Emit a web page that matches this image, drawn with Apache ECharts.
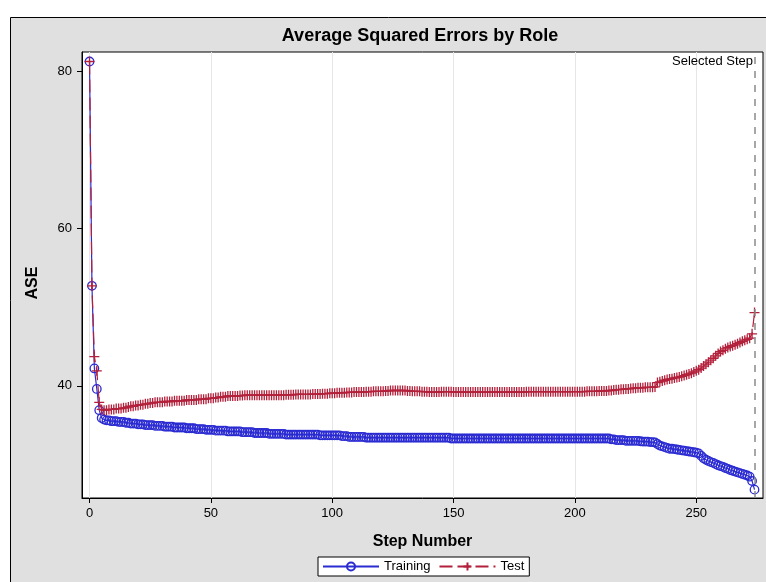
<!DOCTYPE html>
<html>
<head>
<meta charset="utf-8">
<script src="https://cdn.jsdelivr.net/npm/echarts@6/dist/echarts.min.js"></script>
<style>
html,body{margin:0;padding:0;background:#fff;}
#chart{width:766px;height:582px;}
</style>
</head>
<body>
<div id="chart"></div>
<script>
var chartTitle = 'Average Squared Errors by Role';
var xAxisTitle = 'Step Number';
var yAxisTitle = 'ASE';
var seriesNames = ['Training', 'Test'];
var xTicks = [0, 50, 100, 150, 200, 250];
var yTicks = [40, 60, 80];
var selectedStep = 274;
var selectedLabel = 'Selected Step';

// ASE values per step (step number = index)
var training = [
81.2, 52.7, 42.2, 39.6, 36.9, 35.9, 35.7, 35.6, 35.6, 35.5,
35.5, 35.5, 35.4, 35.4, 35.4, 35.3, 35.3, 35.2, 35.2, 35.2,
35.1, 35.1, 35.1, 35.0, 35.0, 35.0, 35.0, 34.9, 34.9, 34.9,
34.9, 34.8, 34.8, 34.8, 34.8, 34.7, 34.7, 34.7, 34.7, 34.7,
34.6, 34.6, 34.6, 34.6, 34.5, 34.5, 34.5, 34.5, 34.4, 34.4,
34.4, 34.4, 34.3, 34.3, 34.3, 34.3, 34.3, 34.2, 34.2, 34.2,
34.2, 34.2, 34.2, 34.1, 34.1, 34.1, 34.1, 34.1, 34.0, 34.0,
34.0, 34.0, 34.0, 34.0, 33.9, 33.9, 33.9, 33.9, 33.9, 33.9,
33.9, 33.8, 33.8, 33.8, 33.8, 33.8, 33.8, 33.8, 33.8, 33.8,
33.8, 33.8, 33.8, 33.8, 33.8, 33.7, 33.7, 33.7, 33.7, 33.7,
33.7, 33.7, 33.7, 33.7, 33.6, 33.6, 33.6, 33.5, 33.5, 33.5,
33.5, 33.5, 33.5, 33.5, 33.4, 33.4, 33.4, 33.4, 33.4, 33.4,
33.4, 33.4, 33.4, 33.4, 33.4, 33.4, 33.4, 33.4, 33.4, 33.4,
33.4, 33.4, 33.4, 33.4, 33.4, 33.4, 33.4, 33.4, 33.4, 33.4,
33.4, 33.4, 33.4, 33.4, 33.4, 33.4, 33.4, 33.4, 33.4, 33.3,
33.3, 33.3, 33.3, 33.3, 33.3, 33.3, 33.3, 33.3, 33.3, 33.3,
33.3, 33.3, 33.3, 33.3, 33.3, 33.3, 33.3, 33.3, 33.3, 33.3,
33.3, 33.3, 33.3, 33.3, 33.3, 33.3, 33.3, 33.3, 33.3, 33.3,
33.3, 33.3, 33.3, 33.3, 33.3, 33.3, 33.3, 33.3, 33.3, 33.3,
33.3, 33.3, 33.3, 33.3, 33.3, 33.3, 33.3, 33.3, 33.3, 33.3,
33.3, 33.3, 33.3, 33.3, 33.3, 33.3, 33.3, 33.3, 33.3, 33.3,
33.3, 33.3, 33.3, 33.3, 33.3, 33.2, 33.2, 33.1, 33.1, 33.1,
33.1, 33.0, 33.0, 33.0, 33.0, 33.0, 33.0, 32.95, 32.9, 32.9,
32.9, 32.85, 32.85, 32.8, 32.6, 32.4, 32.3, 32.2, 32.1, 32.0,
32.0, 31.95, 31.9, 31.85, 31.8, 31.75, 31.7, 31.65, 31.6, 31.55,
31.5, 31.4, 31.1, 30.8, 30.6, 30.45, 30.3, 30.2, 30.05, 29.9,
29.8, 29.7, 29.55, 29.45, 29.3, 29.2, 29.1, 29.0, 28.9, 28.8,
28.7, 28.6, 28.45, 27.9, 26.8
];

var test = [
81.2, 52.7, 43.7, 41.9, 37.9, 37.0, 36.9, 36.9, 37.0, 37.0,
37.0, 37.1, 37.1, 37.1, 37.2, 37.2, 37.3, 37.4, 37.4, 37.5,
37.5, 37.6, 37.6, 37.7, 37.7, 37.8, 37.8, 37.9, 37.9, 37.9,
37.9, 38.0, 38.0, 38.0, 38.0, 38.1, 38.1, 38.1, 38.1, 38.1,
38.2, 38.2, 38.2, 38.2, 38.2, 38.3, 38.3, 38.3, 38.3, 38.4,
38.4, 38.4, 38.5, 38.5, 38.6, 38.6, 38.6, 38.7, 38.7, 38.7,
38.7, 38.7, 38.75, 38.75, 38.8, 38.8, 38.8, 38.8, 38.8, 38.8,
38.8, 38.8, 38.8, 38.8, 38.8, 38.8, 38.8, 38.8, 38.8, 38.8,
38.8, 38.85, 38.85, 38.85, 38.85, 38.9, 38.9, 38.9, 38.9, 38.9,
38.9, 38.9, 38.95, 38.95, 38.95, 38.95, 39.0, 39.0, 39.0, 39.05,
39.05, 39.05, 39.1, 39.1, 39.1, 39.1, 39.15, 39.15, 39.15, 39.2,
39.2, 39.2, 39.2, 39.2, 39.25, 39.25, 39.25, 39.3, 39.3, 39.3,
39.3, 39.3, 39.35, 39.35, 39.4, 39.4, 39.4, 39.4, 39.4, 39.4,
39.4, 39.35, 39.35, 39.3, 39.3, 39.3, 39.3, 39.25, 39.25, 39.25,
39.2, 39.2, 39.2, 39.2, 39.2, 39.25, 39.25, 39.25, 39.25, 39.25,
39.2, 39.2, 39.2, 39.2, 39.2, 39.2, 39.2, 39.2, 39.2, 39.2,
39.2, 39.2, 39.2, 39.2, 39.2, 39.2, 39.2, 39.2, 39.2, 39.2,
39.2, 39.2, 39.2, 39.2, 39.2, 39.2, 39.2, 39.2, 39.2, 39.2,
39.25, 39.25, 39.25, 39.25, 39.25, 39.25, 39.25, 39.25, 39.25, 39.25,
39.25, 39.25, 39.25, 39.25, 39.25, 39.25, 39.25, 39.25, 39.25, 39.25,
39.25, 39.25, 39.25, 39.25, 39.25, 39.3, 39.3, 39.3, 39.3, 39.3,
39.35, 39.35, 39.35, 39.35, 39.4, 39.4, 39.45, 39.5, 39.5, 39.55,
39.55, 39.6, 39.6, 39.65, 39.7, 39.7, 39.75, 39.75, 39.75, 39.8,
39.8, 39.8, 39.8, 39.85, 40.4, 40.5, 40.6, 40.7, 40.8, 40.85,
40.9, 41.0, 41.05, 41.1, 41.2, 41.3, 41.4, 41.5, 41.6, 41.75,
41.9, 42.05, 42.25, 42.5, 42.75, 43.0, 43.25, 43.5, 43.8, 44.1,
44.35, 44.5, 44.7, 44.85, 45.0, 45.1, 45.2, 45.35, 45.5, 45.65,
45.8, 45.9, 46.05, 46.6, 49.3
];

var blue = '#2b2bd2';
var red = '#b3203b';
var FONT = '"Liberation Sans", Arial, sans-serif';

function pairs(arr) { return arr.map(function (v, i) { return [i, v]; }); }

var chart = echarts.init(document.getElementById('chart'), null, { renderer: 'canvas' });
chart.setOption({
  backgroundColor: '#fff',
  animation: false,
  textStyle: { fontFamily: FONT, color: '#000' },
  graphic: [
    { type: 'rect', z: -10, silent: true,
      shape: { x: 10.5, y: 17.5, width: 800, height: 600 },
      style: { fill: '#e0e0e0', stroke: '#000', lineWidth: 1 } },
    { type: 'text', z: 10, silent: true, right: 13, top: 55,
      style: { text: selectedLabel, font: '13px ' + FONT, fill: '#000' } },
    { type: 'text', z: 10, silent: true, x: 33, y: 283, rotation: Math.PI / 2,
      style: { text: yAxisTitle, font: 'bold 16px ' + FONT, fill: '#000', align: 'center', verticalAlign: 'middle' } }
  ],
  title: {
    text: chartTitle, left: 415, top: 22, textAlign: 'center',
    textStyle: { fontFamily: FONT, fontSize: 18, fontWeight: 'bold', color: '#000' }
  },
  grid: { left: 82, top: 52, right: 3, bottom: 84, show: true, backgroundColor: '#fff', borderColor: '#000', borderWidth: 1 },
  legend: {
    left: 318, top: 557,
    backgroundColor: '#fff', borderColor: '#000', borderWidth: 1,
    padding: [3, 5, 3, 4], itemGap: 8, itemWidth: 56, itemHeight: 10,
    textStyle: { fontFamily: FONT, fontSize: 13, color: '#000' },
    data: seriesNames
  },
  xAxis: {
    type: 'value', min: -3.1, max: 277.5,
    name: xAxisTitle, nameLocation: 'middle', nameGap: 36,
    nameTextStyle: { fontFamily: FONT, fontSize: 16, fontWeight: 'bold', color: '#000' },
    axisLine: { show: true, onZero: false, lineStyle: { color: '#000' } },
    axisTick: { show: true, length: 5, customValues: xTicks, lineStyle: { color: '#000' } },
    axisLabel: { customValues: xTicks, margin: 9, fontSize: 13, color: '#000', fontFamily: FONT },
    splitLine: { show: true, lineStyle: { color: '#e6e6e6', width: 1 } }
  },
  yAxis: {
    type: 'value', min: 25.74, max: 82.41,
    axisLine: { show: true, onZero: false, lineStyle: { color: '#000' } },
    axisTick: { show: true, length: 5, customValues: yTicks, lineStyle: { color: '#000' } },
    axisLabel: { customValues: yTicks, margin: 10, fontSize: 13, color: '#000', fontFamily: FONT },
    splitLine: { show: false }
  },
  series: [
    {
      name: seriesNames[0], type: 'line', data: pairs(training),
      symbol: 'circle', symbolSize: 8.5, showAllSymbol: true,
      lineStyle: { color: blue, width: 1.2 },
      itemStyle: { color: 'rgba(0,0,0,0)', borderColor: blue, borderWidth: 1.3 },
      z: 2
    },
    {
      name: seriesNames[1], type: 'line', data: pairs(test),
      symbol: 'path://M0,5L10,5M5,0L5,10', symbolSize: 10, showAllSymbol: true,
      lineStyle: { color: red, width: 1.2, type: [13, 5] },
      itemStyle: { color: 'rgba(0,0,0,0)', borderColor: red, borderWidth: 1.3 },
      z: 3,
      markLine: {
        silent: true, symbol: 'none', animation: false,
        label: { show: false },
        lineStyle: { color: '#8a8a8a', type: [7, 7], width: 1.5 },
        data: [{ xAxis: selectedStep }]
      }
    }
  ]
});
</script>
</body>
</html>
